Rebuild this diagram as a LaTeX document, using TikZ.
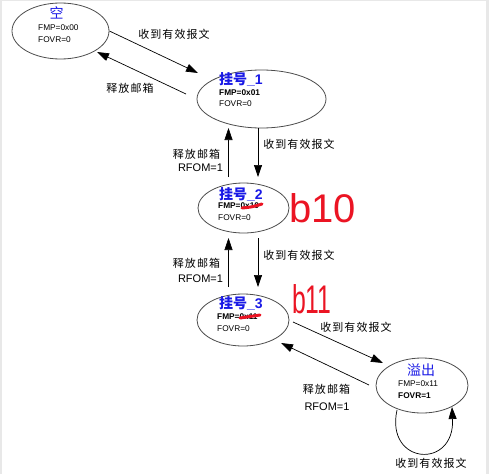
\documentclass[tikz,border=0pt]{standalone}
\usepackage{fontspec}
\setmainfont{Liberation Sans}
\newfontfamily\cjk{Noto Sans CJK SC}
\newfontfamily\cjkls[LetterSpace=10]{Noto Sans CJK SC}
\usetikzlibrary{shapes.geometric,arrows.meta,calc}
\definecolor{ttlblue}{RGB}{25,25,230}
\definecolor{handred}{RGB}{235,20,35}
\begin{document}
\begin{tikzpicture}[x=1pt,y=-1pt,
 st/.style={draw=black!70, line width=0.8pt, ellipse, inner sep=0pt},
 arr/.style={draw=black, line width=0.7pt, -{Triangle[length=12pt,width=8pt]}},
 lab/.style={font=\cjkls\fontsize{11}{13}\selectfont, inner sep=0pt},
 sm/.style={font=\fontsize{8.3}{10}\selectfont, anchor=west, inner sep=0pt},
 smb/.style={font=\bfseries\fontsize{8.3}{10}\selectfont, anchor=west, inner sep=0pt},
 rf/.style={font=\fontsize{11}{13}\selectfont, inner sep=0pt},
 ttl/.style={font=\cjk\fontsize{14}{16}\selectfont, text=ttlblue, inner sep=0pt},
 ttlb/.style={font=\cjk\bfseries\fontsize{14}{16}\selectfont, text=ttlblue, anchor=west, inner sep=0pt},
 hand/.style={text=handred, font=\fontsize{40}{40}\selectfont, inner sep=0pt, anchor=base west},
 strike/.style={draw=handred, line width=3pt, line cap=round},
 ]
\useasboundingbox (0,0) rectangle (489,474);
\fill[white] (0,0) rectangle (489,474);
\fill[black!9] (0,0) rectangle (1.5,474);
\fill[black!9] (0,0) rectangle (489,1);
\fill[black!9] (486,0) rectangle (489,474);

% states
\node[st, minimum width=97pt, minimum height=56pt] (e0) at (60.5,31) {};
\node[st, minimum width=129pt, minimum height=58pt] (e1) at (261.5,99) {};
\node[st, minimum width=91pt, minimum height=50pt] (e2) at (243.5,208) {};
\node[st, minimum width=92pt, minimum height=52pt] (e3) at (243,320) {};
\node[st, minimum width=92pt, minimum height=55pt] (e4) at (422,385.5) {};

% state texts
\node[ttl] (t0) at (56.5,12.5) {空};
\node[sm] (f0a) at (38,28) {FMP=0x00};
\node[sm] (f0b) at (38,40) {FOVR=0};

\node[ttlb] (t1) at (219,79.5) {挂号\rmfamily\_1};
\node[smb] (f1a) at (219,93) {FMP=0x01};
\node[sm] (f1b) at (219,104) {FOVR=0};

\node[ttlb] (t2) at (219,194) {挂号\rmfamily\_2};
\node[smb] (f2a) at (218,206) {FMP=0x10};
\node[sm] (f2b) at (218,218) {FOVR=0};

\node[ttlb] (t3) at (219,303) {挂号\rmfamily\_3};
\node[smb] (f3a) at (217,317) {FMP=0x11};
\node[sm] (f3b) at (217,329) {FOVR=0};

\node[ttl] (t4) at (421,370) {溢出};
\node[sm] (f4a) at (398,384) {FMP=0x11};
\node[smb] (f4b) at (398,396) {FOVR=1};

% transitions
\draw[arr] (e0.east) -- ([shift={(-63.5,-26)}]e1.center);
\draw[arr] ([shift={(-75.5,-5)}]e1.center) -- ([shift={(36.5,21)}]e0.center);
\draw[arr] ([shift={(-15,-31)}]e2.center) -- ([shift={(-33,29)}]e1.center);
\draw[arr] ([shift={(-3.5,29)}]e1.center) -- ([shift={(14.5,-31)}]e2.center);
\draw[arr] ([shift={(-14.5,-33)}]e3.center) -- ([shift={(-15,30)}]e2.center);
\draw[arr] ([shift={(14.5,30)}]e2.center) -- ([shift={(15,-33)}]e3.center);
\draw[arr] ([shift={(50,2)}]e3.center) -- ([shift={(-39,-22.5)}]e4.center);
\draw[arr] ([shift={(-53,-0.5)}]e4.center) -- ([shift={(38,23)}]e3.center);
\draw[arr] ([shift={(-25,24.5)}]e4.center) .. controls +(-12,55) and +(3,63) .. ([shift={(30,21.5)}]e4.center);

% transition labels
\node[lab] (l1) at (174,34) {收到有效报文};
\node[lab] (l2) at (130,88) {释放邮箱};
\node[lab] (l3) at (299,144) {收到有效报文};
\node[lab] (l4) at (196.5,154) {释放邮箱};
\node[rf] (r4) at (200.5,168) {RFOM=1};
\node[lab] (l5) at (299,255) {收到有效报文};
\node[lab] (l6) at (196.5,263) {释放邮箱};
\node[rf] (r6) at (200.5,279) {RFOM=1};
\node[lab] (l7) at (356,327) {收到有效报文};
\node[lab] (l8) at (326.5,389) {释放邮箱};
\node[rf] (r8) at (327,407) {RFOM=1};
\node[lab] (l9) at (431,463) {收到有效报文};

% handwritten annotations
\draw[strike] (242,208) .. controls (252,207) .. (262,204);
\draw[strike] (240,318) .. controls (250,317) .. (260,315);
\node[hand] (h2) at (289,222) {b10};
\node[hand] (h3) at (292,313) {\scalebox{0.62}[1]{b11}};
\end{tikzpicture}
\end{document}
